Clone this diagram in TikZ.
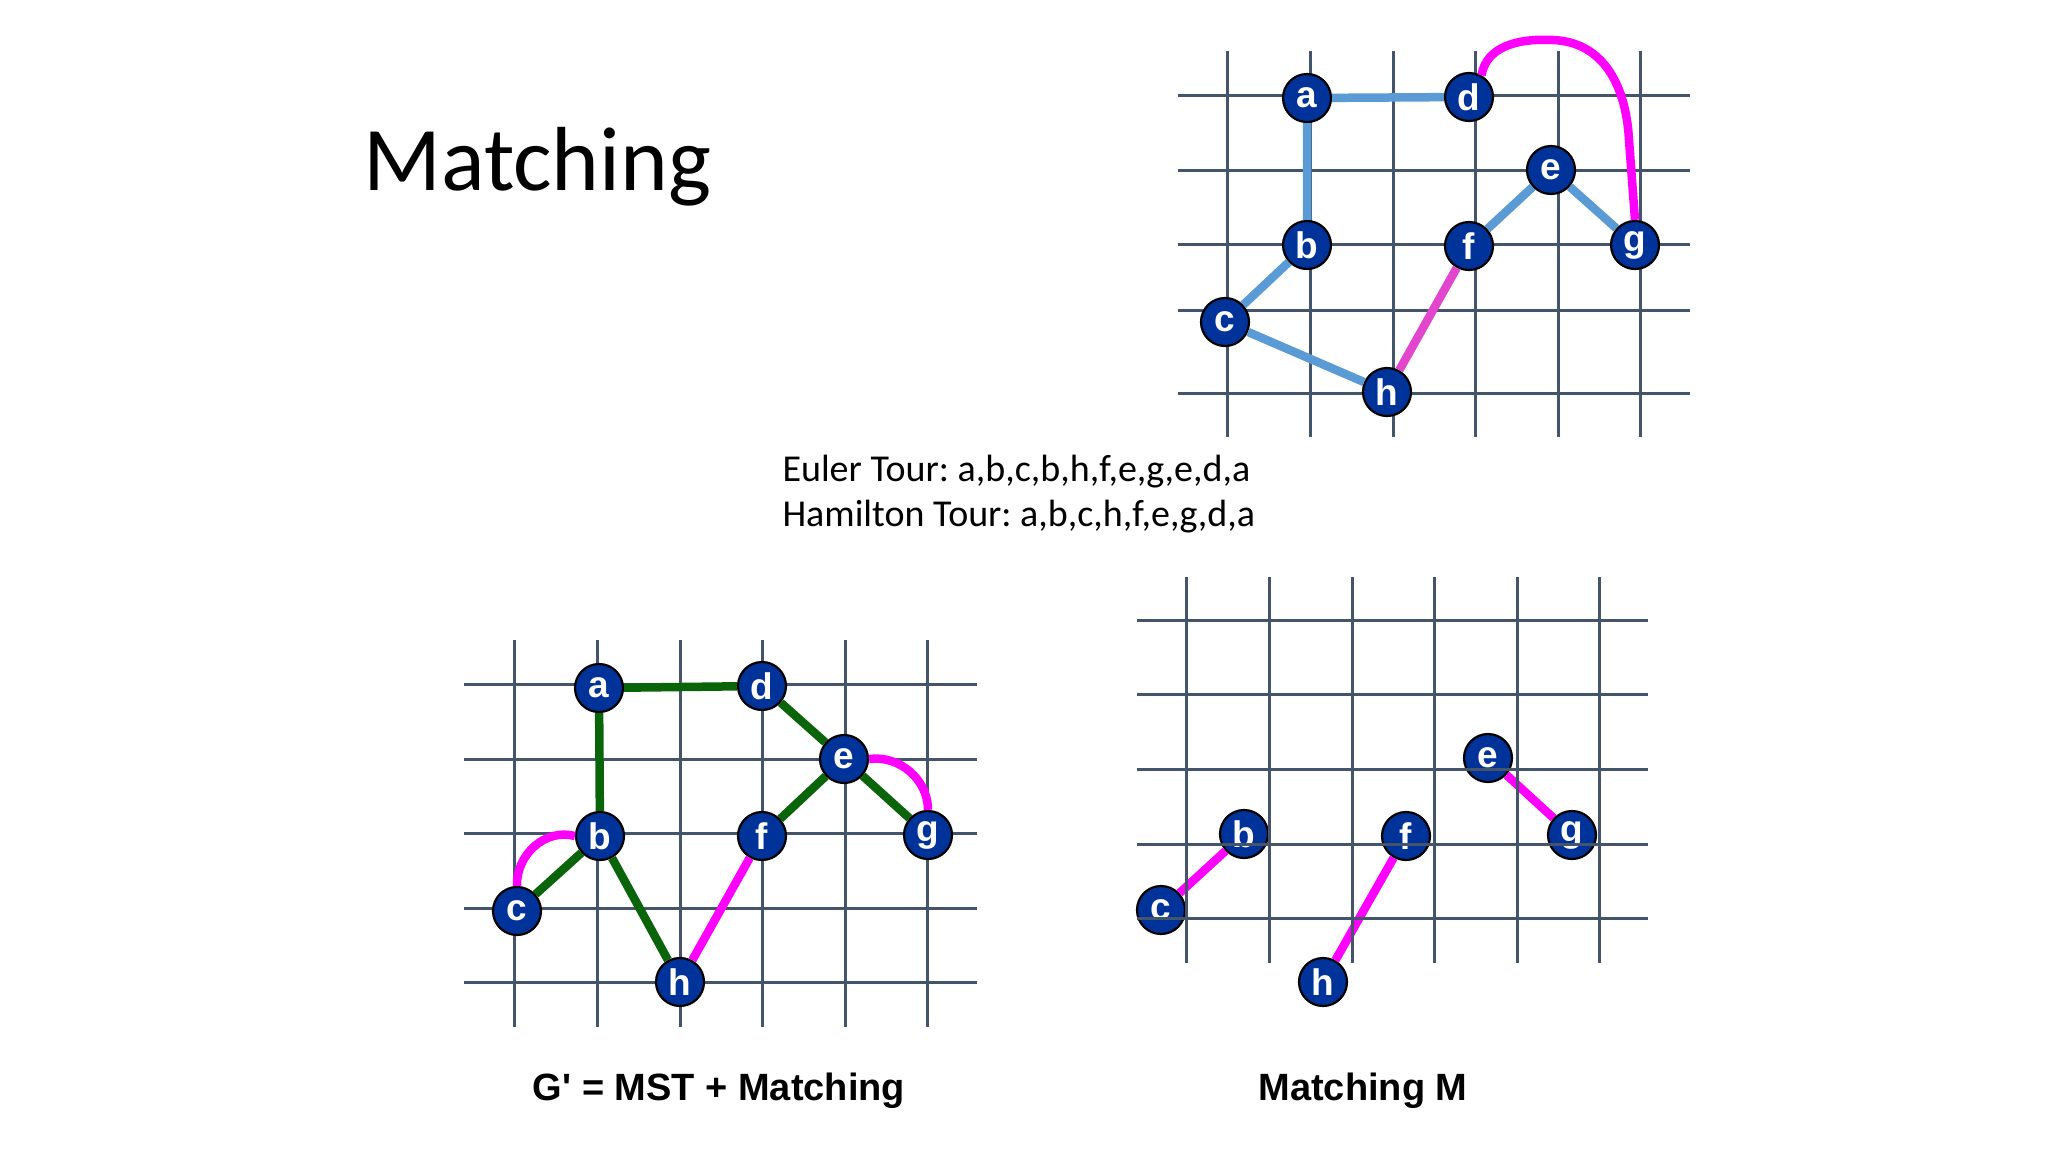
\documentclass[tikz,border=0pt]{standalone}
\usepackage{fontspec}
\setmainfont{Carlito}
\newfontfamily\arialfont{Liberation Sans}[Ligatures=TeXOff]
\usepackage{xcolor}
\usetikzlibrary{positioning}
\definecolor{gridgray}{RGB}{68,84,106}
\definecolor{nodeblue}{RGB}{0,51,153}
\definecolor{tourblue}{RGB}{91,155,213}
\definecolor{mstgreen}{RGB}{10,100,10}
\definecolor{matchpink}{RGB}{255,0,255}
\definecolor{mixpink}{RGB}{225,70,205}

\tikzset{
  vertex/.style={circle, draw=black, line width=2.2pt, fill=nodeblue, minimum size=48pt, inner sep=0pt, text=white, font=\arialfont\bfseries\fontsize{37}{37}\selectfont},
  gridline/.style={gridgray, line width=3pt},
  touredge/.style={tourblue, line width=8.5pt},
  mstedge/.style={mstgreen, line width=8.5pt},
  matchedge/.style={matchpink, line width=8.5pt},
  caption/.style={anchor=base, font=\arialfont\bfseries\fontsize{38}{46}\selectfont}
}

\begin{document}
\frenchspacing
\begin{tikzpicture}[x=1pt, y=-1pt]
\useasboundingbox[fill=white] (0,0) rectangle (2048,1152);

\node[anchor=base west, font=\fontsize{91}{100}\selectfont] (title) at (360,190) {Matching};
\node[anchor=base west, font=\fontsize{38}{46}\selectfont] (euler) at (779,481) {Euler Tour: a,b,c,b,h,f,e,g,e,d,a};
\node[anchor=base west, font=\fontsize{38}{46}\selectfont] (hamilton) at (779,526) {Hamilton Tour: a,b,c,h,f,e,g,d,a};

% tour
\foreach \x in {1227,1310,1393,1475,1558,1640} \draw[gridline] (\x,51) -- (\x,437);
\foreach \y in {95,170,244,310,393} \draw[gridline] (1178,\y) -- (1690,\y);
\node[vertex] (ta) at (1307,98) {a};
\node[vertex] (td) at (1469,97) {d};
\node[vertex] (te) at (1551,170) {e};
\node[vertex] (tb) at (1307,245) {b};
\node[vertex] (tf) at (1469,246) {f};
\node[vertex] (tg) at (1635,245) {g};
\node[vertex] (tc) at (1225,322) {c};
\node[vertex] (th) at (1387,392) {h};
\draw[touredge] (ta) -- (td) (ta) -- (tb) (tb) -- (tc) (tc) -- (th) (tf) -- (te) (te) -- (tg);
\draw[mixpink, line width=8.5pt] (tf) -- (th);
\draw[matchedge] (td.60) .. controls (1486,48) and (1515,38) .. (1553,40) .. controls (1603,42) and (1626,85) .. (1629,140) .. controls (1632,180) .. (tg.north);

% G' = MST + matching
\foreach \x in {514,597,680,762,845,927} \draw[gridline] (\x,640) -- (\x,1027);
\foreach \y in {684,759,833,908,982} \draw[gridline] (464,\y) -- (977,\y);
\node[vertex] (ga) at (599,688) {a};
\node[vertex] (gd) at (762,686) {d};
\node[vertex] (ge) at (844,759) {e};
\node[vertex] (gb) at (600,836) {b};
\node[vertex] (gf) at (762,836) {f};
\node[vertex] (gg) at (928,835) {g};
\node[vertex] (gc) at (517,911) {c};
\node[vertex] (gh) at (680,982) {h};
\draw[mstedge] (ga) -- (gd) (ga) -- (gb) (gb) -- (gc) (gb) -- (gh) (gd) -- (ge) (ge) -- (gf) (ge) -- (gg);
\draw[matchedge] (gb.west) .. controls (545,828) and (516,855) .. (gc.north);
\draw[matchedge] (ge.east) .. controls (900,755) and (928,780) .. (gg.north);
\draw[matchedge] (gf) -- (gh);
\node[caption] (gcap) at (719,1100) {G' = MST + Matching};

% matching M
\node[vertex] (me) at (1488,758) {e};
\node[vertex] (mb) at (1244,834) {b};
\node[vertex] (mf) at (1406,836) {f};
\node[vertex] (mg) at (1572,835) {g};
\node[vertex] (mc) at (1161,910) {c};
\node[vertex] (mh) at (1323,982) {h};
\draw[matchedge] (mc) -- (mb) (mh) -- (mf) (me) -- (mg);
\foreach \x in {1186,1269,1352,1434,1517,1599} \draw[gridline] (\x,577) -- (\x,963);
\foreach \y in {620,694,769,844,918} \draw[gridline] (1137,\y) -- (1648,\y);
\node[caption] (mcap) at (1363,1100) {Matching M};
\end{tikzpicture}
\end{document}
